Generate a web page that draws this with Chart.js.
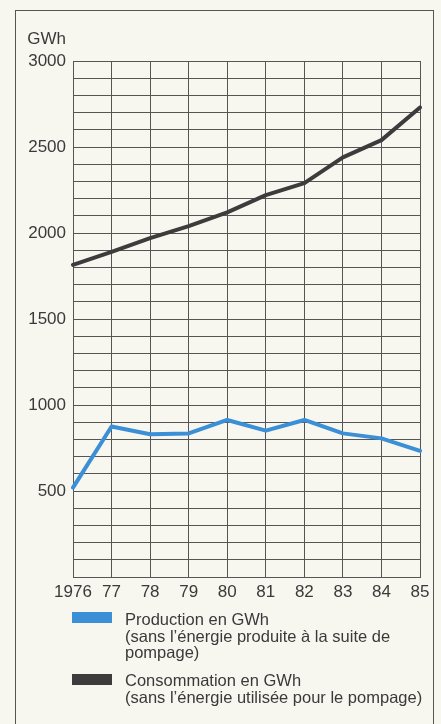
<!DOCTYPE html>
<html>
<head>
<meta charset="utf-8">
<script src="https://cdn.jsdelivr.net/npm/chart.js@4/dist/chart.umd.min.js"></script>
<style>
  html, body { margin:0; padding:0; background:#f7f6ef; }
  #wrap { position:relative; width:441px; height:724px; overflow:hidden; font-family:"Liberation Sans", Arial, sans-serif; color:#3a3a3a; }
  #frame { position:absolute; left:15px; top:10px; width:419px; height:740px; border:1.5px solid #555; box-sizing:border-box; }
  canvas { position:absolute; left:0; top:0; }
  #unit { position:absolute; right:375px; top:29px; font-size:17px; line-height:20px; }
  .sw { position:absolute; left:72px; width:40px; height:11px; }
  .lt { position:absolute; left:125px; font-size:16.5px; line-height:16.7px; white-space:nowrap; }
</style>
</head>
<body>
<div id="wrap">
  <div id="frame"></div>
  <canvas id="c" width="441" height="724"></canvas>
  <div id="unit">GWh</div>
  <div class="sw" style="top:612px;background:#3a8fd6;"></div>
  <div class="lt" style="top:611px;">Production en GWh<br>(sans l’énergie produite à la suite de<br>pompage)</div>
  <div class="sw" style="top:674px;background:#3c3c3c;"></div>
  <div class="lt" style="top:672px;">Consommation en GWh<br>(sans l’énergie utilisée pour le pompage)</div>
</div>
<script>
const years = ['1976','77','78','79','80','81','82','83','84','85'];
const production = [520, 875, 830, 835, 913, 851, 913, 835, 806, 733];
const consumption = [1815, 1890, 1970, 2040, 2120, 2220, 2290, 2440, 2540, 2730];
const yLabels = [500, 1000, 1500, 2000, 2500, 3000];

new Chart(document.getElementById('c'), {
  type: 'line',
  data: {
    labels: years,
    datasets: [
      { label: 'Production en GWh', data: production, borderColor: '#3a8fd6', borderWidth: 4, pointRadius: 0, tension: 0, borderCapStyle: 'round', borderJoinStyle: 'round' },
      { label: 'Consommation en GWh', data: consumption, borderColor: '#3c3c3c', borderWidth: 4, pointRadius: 0, tension: 0, borderCapStyle: 'round', borderJoinStyle: 'round' }
    ]
  },
  options: {
    responsive: false,
    animation: false,
    layout: { padding: { top: 61, right: 21, left: 0, bottom: 0 } },
    plugins: { legend: { display: false }, tooltip: { enabled: false } },
    scales: {
      x: {
        type: 'category',
        offset: false,
        afterFit: s => { s.height = 147; },
        grid: { color: '#555', lineWidth: 1, drawTicks: false },
        border: { color: '#555', width: 1 },
        ticks: { color: '#3a3a3a', font: { family: 'Liberation Sans', size: 17 }, padding: 5, maxRotation: 0, autoSkip: false }
      },
      y: {
        min: 0, max: 3000,
        afterFit: s => { s.width = 73; },
        grid: { color: '#555', lineWidth: 1, drawTicks: false },
        border: { color: '#555', width: 1 },
        ticks: {
          stepSize: 100, autoSkip: false, padding: 7, color: '#3a3a3a',
          font: { family: 'Liberation Sans', size: 17 },
          callback: v => yLabels.includes(v) ? String(v) : ''
        }
      }
    }
  }
});
</script>
</body>
</html>
